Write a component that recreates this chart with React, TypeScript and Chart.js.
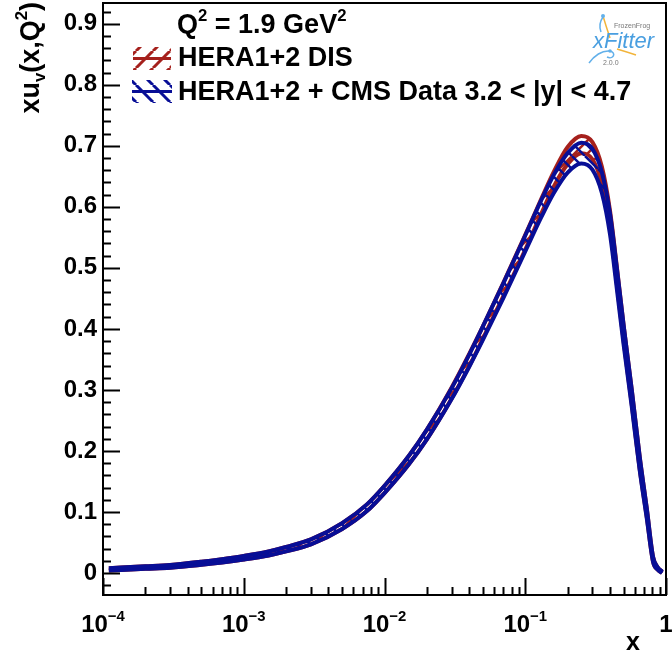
import React, { useEffect, useRef } from 'react';
import { Chart, registerables } from 'chart.js';

Chart.register(...registerables);

// ---- data ----
const xValues = [1.1e-4, 2e-4, 3e-4, 5e-4, 7e-4, 1e-3, 1.5e-3, 2e-3, 3e-3, 5e-3, 7.5e-3, 0.01, 0.015, 0.02, 0.03, 0.04, 0.05, 0.07, 0.1, 0.13, 0.16, 0.2, 0.25, 0.3, 0.35, 0.4, 0.45, 0.5, 0.57, 0.65, 0.73, 0.81, 0.87, 0.94];
const cmsCentral = [0.006, 0.009, 0.011, 0.016, 0.020, 0.025, 0.032, 0.039, 0.051, 0.077, 0.107, 0.137, 0.186, 0.227, 0.294, 0.348, 0.393, 0.463, 0.540, 0.597, 0.638, 0.672, 0.688, 0.678, 0.640, 0.572, 0.478, 0.390, 0.288, 0.180, 0.098, 0.022, 0.008, 0.001];
const cmsError = [0.002, 0.002, 0.0022, 0.0025, 0.0028, 0.003, 0.0033, 0.0036, 0.004, 0.0048, 0.0055, 0.006, 0.007, 0.008, 0.009, 0.010, 0.011, 0.012, 0.013, 0.014, 0.015, 0.016, 0.017, 0.017, 0.017, 0.017, 0.017, 0.016, 0.014, 0.011, 0.008, 0.004, 0.002, 0.001];
const heraCentral = [0.006, 0.009, 0.011, 0.016, 0.020, 0.025, 0.032, 0.039, 0.051, 0.077, 0.107, 0.137, 0.186, 0.227, 0.295, 0.349, 0.394, 0.465, 0.542, 0.601, 0.646, 0.684, 0.702, 0.692, 0.652, 0.580, 0.483, 0.393, 0.290, 0.181, 0.099, 0.022, 0.008, 0.001];
const heraError = [0.002, 0.002, 0.0022, 0.0025, 0.0028, 0.003, 0.0033, 0.0036, 0.004, 0.0048, 0.0055, 0.006, 0.007, 0.008, 0.009, 0.010, 0.010, 0.011, 0.012, 0.012, 0.012, 0.014, 0.014, 0.014, 0.014, 0.014, 0.014, 0.013, 0.012, 0.010, 0.007, 0.004, 0.002, 0.001];

const seriesLabels = ['HERA1+2 DIS', 'HERA1+2 + CMS Data 3.2 < |y| < 4.7'];
const xTickValues = [1e-4, 1e-3, 1e-2, 1e-1, 1];
const xTickBase = ['10', '10', '10', '10', '1'];
const xTickExp = ['−4', '−3', '−2', '−1', ''];
const yTickValues = [0, 0.1, 0.2, 0.3, 0.4, 0.5, 0.6, 0.7, 0.8, 0.9];
const yTickLabels = ['0', '0.1', '0.2', '0.3', '0.4', '0.5', '0.6', '0.7', '0.8', '0.9'];

type Part = { t: string; s?: 'sup' | 'sub' };
const legendHeader: Part[] = [{ t: 'Q' }, { t: '2', s: 'sup' }, { t: ' = 1.9 GeV' }, { t: '2', s: 'sup' }];
const yTitle: Part[] = [{ t: 'xu' }, { t: 'v', s: 'sub' }, { t: '(x,Q' }, { t: '2', s: 'sup' }, { t: ')' }];
const xTitle = 'x';

const RED = 'rgb(165,32,28)';
const BLUE = 'rgb(8,14,150)';
const FONT = '"Liberation Sans", Arial, Helvetica, sans-serif';

function makeHatch(color: string, dir: 1 | -1, size = 13, lw = 2.5): CanvasPattern {
  const c = document.createElement('canvas');
  c.width = size;
  c.height = size;
  const g = c.getContext('2d')!;
  g.strokeStyle = color;
  g.lineWidth = lw;
  for (let k = -1; k <= 1; k++) {
    g.beginPath();
    if (dir === 1) {
      g.moveTo(k * size, size);
      g.lineTo(k * size + size, 0);
    } else {
      g.moveTo(k * size, 0);
      g.lineTo(k * size + size, size);
    }
    g.stroke();
  }
  return g.createPattern(c, 'repeat')!;
}

function richWidth(ctx: CanvasRenderingContext2D, parts: Part[], size: number) {
  let w = 0;
  for (const p of parts) {
    const fs = p.s ? size * 0.62 : size;
    ctx.font = `bold ${fs}px ${FONT}`;
    w += ctx.measureText(p.t).width;
  }
  return w;
}

function drawRich(ctx: CanvasRenderingContext2D, parts: Part[], x: number, y: number, size: number) {
  let cx = x;
  ctx.textAlign = 'left';
  ctx.textBaseline = 'alphabetic';
  for (const p of parts) {
    const fs = p.s ? size * 0.62 : size;
    const dy = p.s === 'sup' ? -size * 0.45 : p.s === 'sub' ? size * 0.22 : 0;
    ctx.font = `bold ${fs}px ${FONT}`;
    ctx.fillText(p.t, cx, y + dy);
    cx += ctx.measureText(p.t).width;
  }
}

export default function App() {
  const ref = useRef<HTMLCanvasElement>(null);

  useEffect(() => {
    const canvas = ref.current!;
    const redHatch = makeHatch(RED, 1);
    const blueHatch = makeHatch(BLUE, -1);

    const pts = (c: number[], e: number[], sign: number) =>
      xValues.map((x, i) => ({ x, y: c[i] + sign * e[i] }));

    const lineBase = {
      borderWidth: 4,
      pointRadius: 0,
      cubicInterpolationMode: 'monotone' as const,
    };

    const overlay = {
      id: 'rootStyle',
      afterDraw(chart: any) {
        const ctx: CanvasRenderingContext2D = chart.ctx;
        const { left, right, top, bottom } = chart.chartArea;
        const xs = chart.scales.x;
        const ys = chart.scales.y;
        ctx.save();
        ctx.strokeStyle = '#000';
        ctx.fillStyle = '#000';
        ctx.lineWidth = 2;
        // ticks pointing inwards
        ctx.beginPath();
        for (let k = -2; k <= 48; k++) {
          const v = k * 0.02;
          if (v < ys.min || v > ys.max) continue;
          const py = Math.round(ys.getPixelForValue(v)) + 0.5;
          const len = k % 5 === 0 ? 17 : 8;
          ctx.moveTo(left, py);
          ctx.lineTo(left + len, py);
        }
        for (let d = -4; d <= 0; d++) {
          for (let m = 1; m <= 9; m++) {
            const v = m * Math.pow(10, d);
            if (v > xs.max * 1.0001) continue;
            const px = Math.round(xs.getPixelForValue(v)) + 0.5;
            const len = m === 1 ? 17 : 8;
            ctx.moveTo(px, bottom);
            ctx.lineTo(px, bottom - len);
          }
        }
        ctx.stroke();
        // frame
        ctx.strokeRect(left, top, right - left, bottom - top);

        // x tick labels (10 with superscript exponent), placed by the x scale
        xTickValues.forEach((v, i) => {
          const parts: Part[] = xTickExp[i] ? [{ t: xTickBase[i] }, { t: xTickExp[i], s: 'sup' }] : [{ t: xTickBase[i] }];
          const w = richWidth(ctx, parts, 24);
          const px = xs.getPixelForValue(v);
          drawRich(ctx, parts, px - w / 2, 632, 24);
        });

        // y title (rotated)
        const yw = richWidth(ctx, yTitle, 27);
        ctx.save();
        ctx.translate(39, 2);
        ctx.rotate(-Math.PI / 2);
        drawRich(ctx, yTitle, -yw, 0, 27);
        ctx.restore();

        // x title
        ctx.font = `bold 25px ${FONT}`;
        ctx.textAlign = 'left';
        ctx.textBaseline = 'alphabetic';
        ctx.fillText(xTitle, 626, 650);

        // legend
        drawRich(ctx, legendHeader, 177, 33, 27);
        drawRich(ctx, [{ t: seriesLabels[0] }], 178, 66, 27);
        drawRich(ctx, [{ t: seriesLabels[1] }], 178, 100, 27);

        const symbol = (x0: number, y0: number, w: number, h: number, pat: CanvasPattern, col: string) => {
          ctx.save();
          ctx.beginPath();
          ctx.rect(x0, y0, w, h);
          ctx.clip();
          ctx.fillStyle = pat;
          ctx.fillRect(x0, y0, w, h);
          ctx.restore();
          ctx.strokeStyle = col;
          ctx.lineWidth = 3;
          ctx.beginPath();
          ctx.moveTo(x0, y0 + h / 2);
          ctx.lineTo(x0 + w, y0 + h / 2);
          ctx.stroke();
        };
        symbol(133, 47, 38, 23, makeHatch(RED, 1, 17, 3), RED);
        symbol(132, 80, 40, 23, makeHatch(BLUE, -1, 17, 3), BLUE);

        // logo
        ctx.lineWidth = 1.5;
        ctx.strokeStyle = '#f2b43a';
        ctx.beginPath();
        ctx.moveTo(603, 16);
        ctx.quadraticCurveTo(606, 26, 610, 38);
        ctx.stroke();
        ctx.beginPath();
        ctx.moveTo(617, 49);
        ctx.quadraticCurveTo(627, 52, 636, 55);
        ctx.stroke();
        ctx.strokeStyle = '#62b0ea';
        ctx.beginPath();
        ctx.moveTo(603, 17);
        ctx.quadraticCurveTo(598, 24, 601, 32);
        ctx.stroke();
        ctx.beginPath();
        ctx.moveTo(589, 63);
        ctx.bezierCurveTo(594, 56, 602, 50, 610, 51);
        ctx.bezierCurveTo(617, 53, 613, 60, 607, 57);
        ctx.stroke();
        ctx.fillStyle = '#62b0ea';
        ctx.beginPath();
        ctx.arc(603, 16, 2, 0, Math.PI * 2);
        ctx.arc(610, 51, 1.8, 0, Math.PI * 2);
        ctx.fill();
        ctx.fillStyle = '#4a9fe0';
        ctx.font = `italic 22px ${FONT}`;
        ctx.fillText('xFitter', 593, 48);
        ctx.fillStyle = '#777';
        ctx.font = `7px ${FONT}`;
        ctx.fillText('FrozenFrog', 614, 28);
        ctx.fillText('2.0.0', 603, 65);
        ctx.restore();
      },
    };

    const chart = new Chart(canvas, {
      type: 'line',
      data: {
        datasets: [
          { ...lineBase, label: seriesLabels[1] + ' up', data: pts(cmsCentral, cmsError, 1), borderColor: BLUE, fill: false },
          { ...lineBase, label: seriesLabels[1], data: pts(cmsCentral, cmsError, -1), borderColor: BLUE, backgroundColor: blueHatch, fill: '-1' },
          { ...lineBase, label: seriesLabels[0] + ' up', data: pts(heraCentral, heraError, 1), borderColor: RED, fill: false },
          { ...lineBase, label: seriesLabels[0], data: pts(heraCentral, heraError, -1), borderColor: RED, backgroundColor: redHatch, fill: '-1' },
        ],
      },
      options: {
        responsive: false,
        animation: false,
        devicePixelRatio: 1,
        layout: { padding: { left: 0, right: 6, top: 3, bottom: 0 } },
        plugins: { legend: { display: false }, tooltip: { enabled: false } },
        scales: {
          x: {
            type: 'logarithmic',
            min: 1e-4,
            max: 1,
            afterBuildTicks: (a: any) => {
              a.ticks = xTickValues.map((v) => ({ value: v }));
            },
            afterFit: (a: any) => {
              a.height = 64;
              a.paddingLeft = 0;
              a.paddingRight = 0;
            },
            grid: { display: false, drawTicks: false },
            border: { display: false },
            ticks: { display: false, autoSkip: false, maxRotation: 0, minRotation: 0 },
          },
          y: {
            type: 'linear',
            min: -0.036,
            max: 0.934,
            afterBuildTicks: (a: any) => {
              a.ticks = yTickValues.map((v) => ({ value: v }));
            },
            afterFit: (a: any) => {
              a.width = 103;
              a.paddingTop = 0;
              a.paddingBottom = 0;
            },
            grid: { display: false, drawTicks: false },
            border: { display: false },
            ticks: {
              autoSkip: false,
              padding: 6,
              color: '#000',
              font: { family: FONT, size: 24, weight: 'bold' },
              callback: (_v: any, i: number) => yTickLabels[i],
            },
          },
        },
      } as any,
      plugins: [overlay],
    });

    return () => chart.destroy();
  }, []);

  return (
    <div style={{ position: 'fixed', left: 0, top: 0, width: 672, height: 659, background: '#fff' }}>
      <canvas ref={ref} width={672} height={659} style={{ width: 672, height: 659, display: 'block' }} />
    </div>
  );
}
